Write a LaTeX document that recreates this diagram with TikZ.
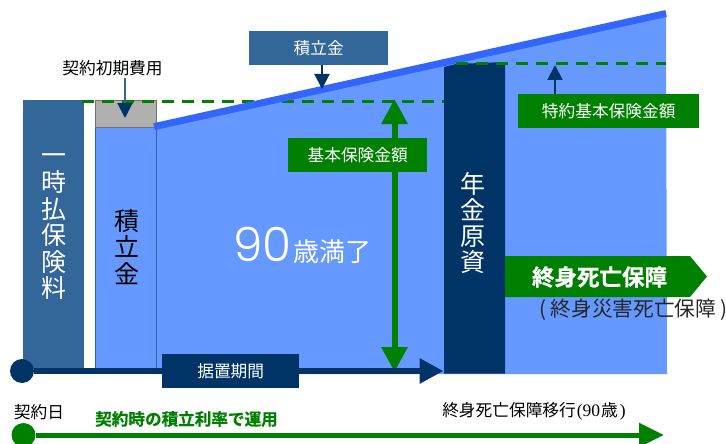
\documentclass[tikz,border=0pt]{standalone}
\usepackage{fontspec}
\usetikzlibrary{arrows.meta}
\setmainfont{Noto Sans CJK JP}
\newfontfamily\serifnum{Liberation Serif}
\newfontfamily\bigdigits{Poppins Light}
\newfontfamily\heavy[FakeBold=0.6]{Noto Sans CJK JP Bold}
\definecolor{midblue}{HTML}{336699}
\definecolor{navy}{HTML}{003366}
\definecolor{skyfill}{HTML}{6699FF}
\definecolor{bandblue}{HTML}{3366FF}
\definecolor{grn}{HTML}{008000}
\definecolor{greyfill}{HTML}{B0B0B0}
\newcommand{\fs}[1]{\fontsize{#1}{#1}\selectfont}
\tikzset{
  x=1pt,y=-1pt,
  lab/.style={inner sep=0pt,font=\fs{16.7}},
  boxlab/.style={lab,text=white,minimum height=34pt,anchor=north west},
  vert/.style={inner sep=0pt,align=center,text=white},
  dashline/.style={draw=grn,line width=3pt,dash pattern=on 12pt off 8pt},
  thinarrow/.style={line width=2pt,-{Triangle[width=15pt,length=15pt,color=navy]}},
}
\begin{document}
\begin{tikzpicture}
\useasboundingbox (0,0) rectangle (726,444);
% main area
\fill[skyfill] (156,128) -- (666,11) -- (667,374) -- (156,374) -- cycle;
% columns
\node[fill=midblue,minimum width=61pt,minimum height=269pt,inner sep=0pt,anchor=north west] (lump) at (23,100) {};
\node[fill=skyfill,draw=midblue,line width=1.2pt,minimum width=61pt,minimum height=242pt,inner sep=0pt,anchor=north west] (acc) at (95,127) {};
\node[fill=greyfill,draw=black!55,line width=1.2pt,minimum width=61pt,minimum height=27pt,inner sep=0pt,anchor=north west] (cost) at (95,100) {};
% dashed level line, then the band over it
\coordinate (dashA) at (82,101.3);
\coordinate (dashB) at (444,101.3);
\draw[dashline] (dashA) -- (dashB);
\coordinate (bandL) at (154,126.7);
\coordinate (bandR) at (666,13.5);
\draw[bandblue,line width=7pt] (bandL) -- (bandR);
% pension column
\fill[navy] (444,67) -- (456,64) -- (505,62) -- (505,373.5) -- (444,373.5) -- cycle;
\coordinate (dashC) at (456,63.3);
\coordinate (dashD) at (666,63.3);
\draw[dashline] (dashC) -- (dashD);
% vertical texts
\node[vert,font=\fontsize{25}{26.6}\selectfont] (lumptext) at (54,227) {一\\時\\払\\保\\険\\料};
\node[vert,text=black,font=\fontsize{25}{26.3}\selectfont] (acctext) at (127,247) {積\\立\\金};
\node[vert,font=\fontsize{25}{26}\selectfont] (pentext) at (473,223) {年\\金\\原\\資};
% big label
\node[inner sep=0pt,text=white,anchor=base west] (age) at (233,261) {{\bigdigits\fs{47}90}\hspace{2pt}{\fs{26}歳満了}};
% double arrow
\coordinate (dblTop) at (394.5,99);
\coordinate (dblBot) at (394.5,372);
\draw[grn,line width=6pt,{Triangle[width=25pt,length=25pt]}-{Triangle[width=25pt,length=25pt]}] (dblTop) -- (dblBot);
% label boxes
\node[boxlab,fill=midblue,minimum width=139pt] (reserve) at (249,31) {積立金};
\node[boxlab,fill=grn,minimum width=139pt] (basic) at (288,138) {基本保険金額};
\node[boxlab,fill=grn,minimum width=181pt] (rider) at (518,94) {特約基本保険金額};
% period arrow
\node[circle,fill=navy,minimum size=24pt,inner sep=0pt] (startA) at (22,371) {};
\coordinate (endA) at (443.5,371);
\draw[navy,line width=6pt,-{Triangle[width=24pt,length=24pt]}] (startA) -- (endA);
\node[boxlab,fill=navy,minimum width=137pt] (defer) at (162,354) {据置期間};
% small arrows
\coordinate (rsvTip) at (322,89);
\draw[navy,thinarrow] (reserve.south -| rsvTip) -- (rsvTip);
\node[lab] (costlab) at (112.5,68) {契約初期費用};
\coordinate (costTop) at (125,78);
\coordinate (costTip) at (125,118);
\draw[midblue,thinarrow] (costTop) -- (costTip);
\coordinate (riderTip) at (555,65);
\draw[navy,thinarrow] (rider.north -| riderTip) -- (riderTip);
% pentagon
\fill[grn] (505,256) coordinate (pA) -- (690,256) -- (707,276.5) -- (690,297) -- (505,297) -- cycle;
\node[inner sep=0pt,text=white,font=\heavy\fs{22.5}] (death) at (599.5,277) {終身死亡保障};
\node[inner sep=0pt,text=black!85,font=\fs{20.7}] (accdeath) at (633.5,310) {(\hspace{4pt}終身災害死亡保障\hspace{4pt})};
% bottom timeline
\node[lab] (contract) at (39,412) {契約日};
\node[lab,text=grn,font=\heavy\fs{16.6}] (rate) at (186.5,419) {契約時の積立利率で運用};
\node[lab] (shift) at (534,411) {終身死亡保障移行{\serifnum\fs{17.5}\hspace{1pt}(90}\hspace{1pt}歳{\hspace{2pt}\serifnum\fs{17.5})}};
\node[circle,fill=grn,minimum size=24pt,inner sep=0pt] (startB) at (23.5,435) {};
\coordinate (endB) at (664,435);
\draw[grn,line width=5pt,-{Triangle[width=23pt,length=25pt]}] (startB) -- (endB);
\end{tikzpicture}
\end{document}
